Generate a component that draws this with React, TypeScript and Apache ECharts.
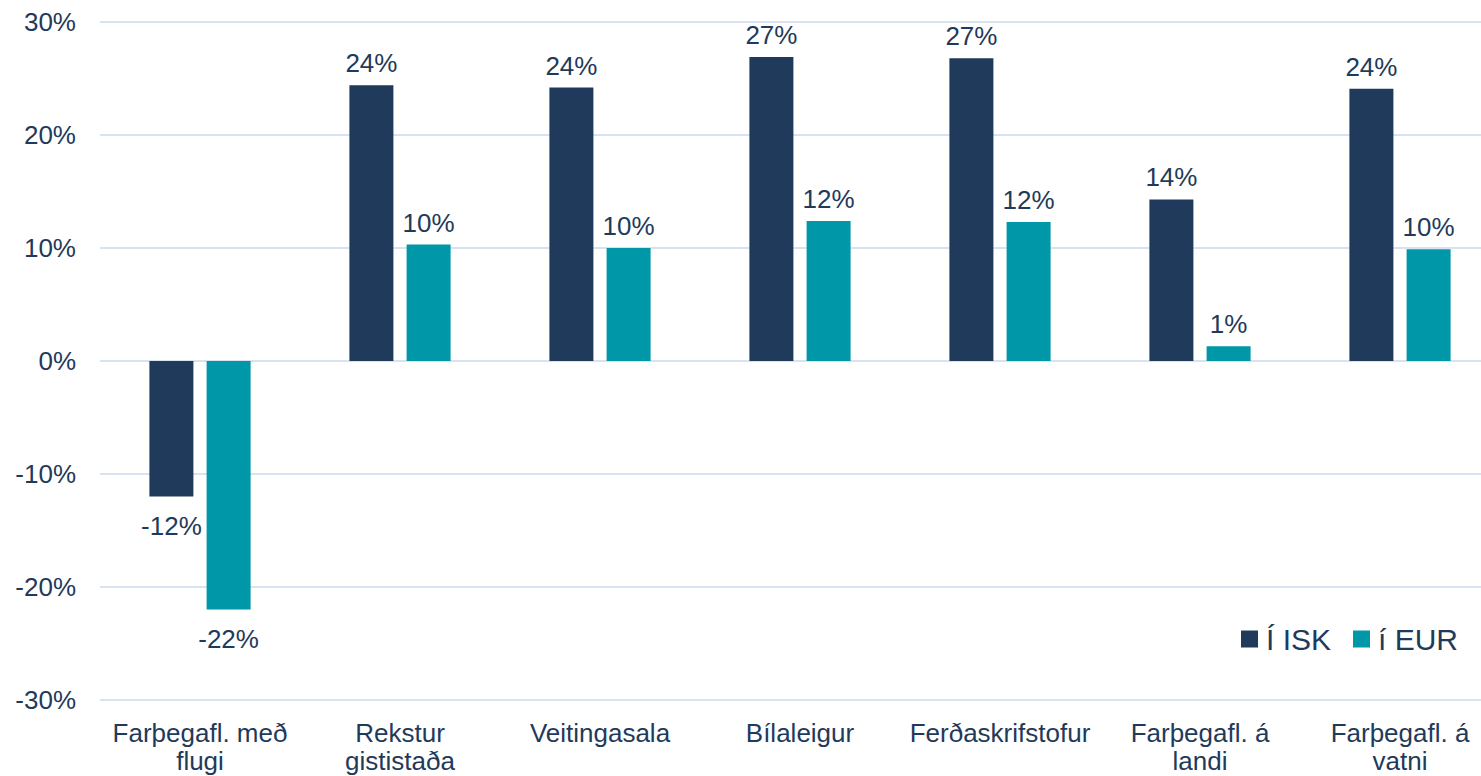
import React, { useEffect, useRef } from "react";
import * as echarts from "echarts";

const categories = [
  "Farþegafl. með\nflugi",
  "Rekstur\ngististaða",
  "Veitingasala",
  "Bílaleigur",
  "Ferðaskrifstofur",
  "Farþegafl. á\nlandi",
  "Farþegafl. á\nvatni",
];
const iskValues = [-12.0, 24.4, 24.2, 26.9, 26.8, 14.3, 24.1];
const eurValues = [-22.0, 10.3, 10.0, 12.4, 12.3, 1.3, 9.9];
const seriesNames = ["Í ISK", "í EUR"];
const colors = ["#1F3A5A", "#0097A9"];
const textColor = "#1F3A5A";
const font = "'Liberation Sans', Arial, sans-serif";

function mkData(vals: number[]) {
  return vals.map((v) => ({
    value: v,
    label: { position: v < 0 ? "bottom" : "top", distance: v < 0 ? 16 : 9 },
  }));
}

export default function App() {
  const ref = useRef<HTMLDivElement>(null);
  useEffect(() => {
    if (!ref.current) return;
    const chart = echarts.init(ref.current, undefined, { renderer: "svg" });
    const labelCfg = {
      show: true,
      color: textColor,
      fontSize: 26,
      fontFamily: font,
      formatter: (p: any) => Math.round(p.value) + "%",
    };
    chart.setOption({
      animation: false,
      textStyle: { fontFamily: font },
      legend: {
        data: seriesNames,
        left: 1236,
        top: 619,
        itemWidth: 17,
        itemHeight: 17,
        itemGap: 22,
        icon: "rect",
        textStyle: { color: textColor, fontSize: 30, fontFamily: font, padding: [0, 0, 0, 3] },
      },
      grid: { left: 100, right: 0, top: 22, bottom: 76, containLabel: false, outerBoundsMode: "none" },
      xAxis: {
        type: "category",
        data: categories,
        axisLine: { show: false },
        axisTick: { show: false },
        axisLabel: {
          color: textColor,
          fontSize: 26,
          fontFamily: font,
          lineHeight: 28,
          margin: 19,
          interval: 0,
        },
      },
      yAxis: {
        type: "value",
        min: -30,
        max: 30,
        interval: 10,
        axisLine: { show: false },
        axisTick: { show: false },
        splitLine: { lineStyle: { color: "#D9E3F0", width: 2 } },
        axisLabel: {
          color: textColor,
          fontSize: 26,
          fontFamily: font,
          margin: 24,
          formatter: (v: number) => v + "%",
        },
      },
      series: [
        {
          name: seriesNames[0],
          type: "bar",
          data: mkData(iskValues),
          barWidth: 44,
          barGap: "30%",
          itemStyle: { color: colors[0] },
          label: labelCfg,
        },
        {
          name: seriesNames[1],
          type: "bar",
          data: mkData(eurValues),
          barWidth: 44,
          barGap: "30%",
          itemStyle: { color: colors[1] },
          label: labelCfg,
        },
      ],
    });
    return () => chart.dispose();
  }, []);
  return (
    <div style={{ width: 1481, height: 776, position: "absolute", left: 0, top: 0, overflow: "hidden" }}>
      <div ref={ref} style={{ width: 1500, height: 776 }} />
    </div>
  );
}
